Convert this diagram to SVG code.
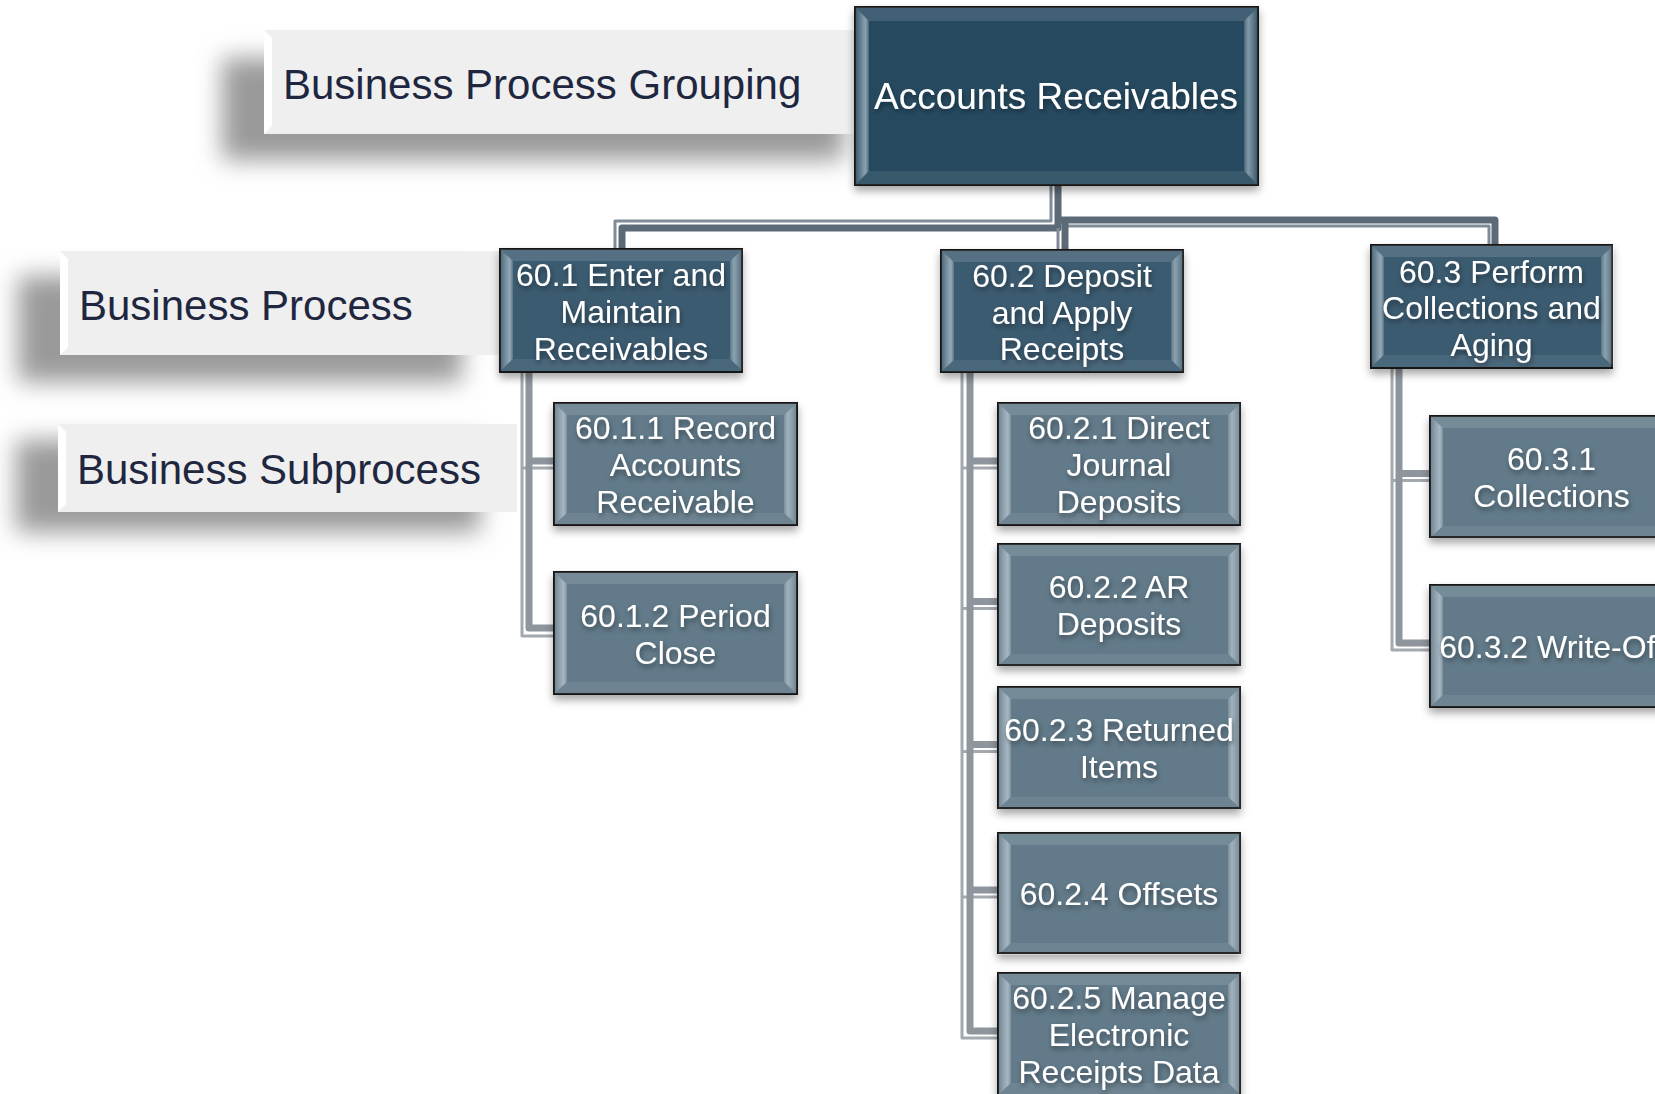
<svg xmlns="http://www.w3.org/2000/svg" xmlns:xlink="http://www.w3.org/1999/xlink" width="1655" height="1094" viewBox="0 0 1655 1094">
<style>
.lbl{fill:#efefef}
.lblt{font-family:"Liberation Sans",Arial,sans-serif;font-size:42px;fill:#1f2740}
.lsh{fill:#9a9a9a;filter:url(#blur)}
.n0{fill:#264a60;stroke:#151515;stroke-width:2}
.n1{fill:#3b5b70;stroke:#151515;stroke-width:2}
.n2{fill:#627a89;stroke:#151515;stroke-width:2}
.t{font-family:"Liberation Sans",Arial,sans-serif;font-size:32px;fill:#ffffff;text-anchor:middle;filter:url(#ts)}
.ck,.cl,.gk,.gl{fill:none;stroke-linejoin:round}
.ck{stroke:#5c6a77;stroke-width:7}
.cl{stroke:#7f8b97;stroke-width:3}
.gk{stroke:#8e959c;stroke-width:7}
.gl{stroke:#a3a9af;stroke-width:3}
</style>
<defs>
<filter id="blur" x="-20%" y="-50%" width="140%" height="200%"><feGaussianBlur stdDeviation="12"/></filter>
<filter id="ds" x="-10%" y="-10%" width="120%" height="135%"><feDropShadow dx="0" dy="5" stdDeviation="4" flood-color="#000" flood-opacity="0.35"/></filter>
<filter id="ts" x="-10%" y="-30%" width="120%" height="170%"><feDropShadow dx="1" dy="3" stdDeviation="2.5" flood-color="#000" flood-opacity="0.4"/></filter>
<linearGradient id="gl" x1="0" y1="0" x2="1" y2="0"><stop offset="0" stop-color="#fff" stop-opacity="0.05"/><stop offset="0.75" stop-color="#dbe8ef" stop-opacity="0.55"/><stop offset="1" stop-color="#fff" stop-opacity="0.15"/></linearGradient>
<linearGradient id="gr" x1="0" y1="0" x2="1" y2="0"><stop offset="0" stop-color="#fff" stop-opacity="0.15"/><stop offset="0.3" stop-color="#dbe8ef" stop-opacity="0.5"/><stop offset="1" stop-color="#fff" stop-opacity="0.05"/></linearGradient>
<symbol id="bev" viewBox="0 0 243 122" width="243" height="122">
<polygon points="0,0 243,0 230,12 13,12" fill="#fff" fill-opacity="0.13"/>
<polygon points="0,122 243,122 230,110 13,110" fill="#fff" fill-opacity="0.08"/>
<polygon points="0,0 13,12 13,110 0,122" fill="url(#gl)"/>
<polygon points="243,0 243,122 230,110 230,12" fill="url(#gr)"/>
</symbol>
<symbol id="bev0" viewBox="0 0 403 178" width="403" height="178">
<polygon points="0,0 403,0 389,14 14,14" fill="#fff" fill-opacity="0.13"/>
<polygon points="0,178 403,178 389,164 14,164" fill="#fff" fill-opacity="0.08"/>
<polygon points="0,0 14,14 14,164 0,178" fill="url(#gl)"/>
<polygon points="403,0 403,178 389,164 389,14" fill="url(#gr)"/>
</symbol>
</defs>
<rect width="1655" height="1094" fill="#ffffff"/>

<g id="label-grouping">
<rect class="lsh" x="222" y="58" width="622" height="102"/>
<rect class="lbl" x="264" y="30" width="600" height="104"/>
<polygon points="264,30 272,38 272,126 264,134" fill="#ffffff"/>
<text class="lblt" x="283" y="99">Business Process Grouping</text>
</g>
<g id="label-process">
<rect class="lsh" x="18" y="276" width="444" height="106"/>
<rect class="lbl" x="60" y="251" width="445" height="104"/>
<polygon points="60,251 68,259 68,347 60,355" fill="#ffffff"/>
<text class="lblt" x="79" y="320">Business Process</text>
</g>
<g id="label-subprocess">
<rect class="lsh" x="16" y="440" width="464" height="92"/>
<rect class="lbl" x="58" y="424" width="459" height="88"/>
<polygon points="58,424 66,432 66,504 58,512" fill="#ffffff"/>
<text class="lblt" x="77" y="484">Business Subprocess</text>
</g>

<g id="connectors">
<path class="cl" d="M1051 185 V221 H615 V250"/>
<path class="ck" d="M1058 185 V228 H622 V250"/>
<path class="cl" d="M1068 226 H1489 V246"/>
<path class="ck" d="M1058 220 H1495 V246"/>
<path class="cl" d="M1058 228 V251"/>
<path class="ck" d="M1065 220 V251"/>

<path class="gl" d="M522 372 V636 H555 M522 468 H555"/>
<path class="gk" d="M529 372 V628 H555 M529 461 H555"/>

<path class="gl" d="M962 372 V1038 H999 M962 468 H999 M962 608.5 H999 M962 751.5 H999 M962 897 H999"/>
<path class="gk" d="M970 372 V1031 H999 M970 461 H999 M970 601.5 H999 M970 744.5 H999 M970 890 H999"/>

<path class="gl" d="M1392 368 V650 H1431 M1392 480.5 H1431"/>
<path class="gk" d="M1399 368 V643 H1431 M1399 473.5 H1431"/>
</g>

<g id="node-ar" filter="url(#ds)">
<rect class="n0" x="855" y="7" width="403" height="178"/>
<use href="#bev0" xlink:href="#bev0" x="855" y="7"/>
<text class="t" x="1056" y="109" style="font-size:37px">Accounts Receivables</text>
</g>

<g id="node-60-1" filter="url(#ds)">
<rect class="n1" x="500" y="249" width="242" height="123"/>
<use href="#bev" xlink:href="#bev" x="500" y="249"/>
<text class="t"><tspan x="621" y="286">60.1 Enter and</tspan><tspan x="621" y="323">Maintain</tspan><tspan x="621" y="360">Receivables</tspan></text>
</g>
<g id="node-60-2" filter="url(#ds)">
<rect class="n1" x="941" y="250" width="242" height="122"/>
<use href="#bev" xlink:href="#bev" x="941" y="250"/>
<text class="t"><tspan x="1062" y="287">60.2 Deposit</tspan><tspan x="1062" y="324">and Apply</tspan><tspan x="1062" y="360">Receipts</tspan></text>
</g>
<g id="node-60-3" filter="url(#ds)">
<rect class="n1" x="1371" y="245" width="241" height="123"/>
<use href="#bev" xlink:href="#bev" x="1371" y="245"/>
<text class="t"><tspan x="1491.5" y="283">60.3 Perform</tspan><tspan x="1491.5" y="319">Collections and</tspan><tspan x="1491.5" y="356">Aging</tspan></text>
</g>

<g id="node-60-1-1" filter="url(#ds)">
<rect class="n2" x="554" y="403" width="243" height="122"/>
<use href="#bev" xlink:href="#bev" x="554" y="403"/>
<text class="t"><tspan x="675.5" y="439">60.1.1 Record</tspan><tspan x="675.5" y="476">Accounts</tspan><tspan x="675.5" y="513">Receivable</tspan></text>
</g>
<g id="node-60-1-2" filter="url(#ds)">
<rect class="n2" x="554" y="572" width="243" height="122"/>
<use href="#bev" xlink:href="#bev" x="554" y="572"/>
<text class="t"><tspan x="675.5" y="627">60.1.2 Period</tspan><tspan x="675.5" y="664">Close</tspan></text>
</g>

<g id="node-60-2-1" filter="url(#ds)">
<rect class="n2" x="998" y="403" width="242" height="122"/>
<use href="#bev" xlink:href="#bev" x="998" y="403"/>
<text class="t"><tspan x="1119" y="439">60.2.1 Direct</tspan><tspan x="1119" y="476">Journal</tspan><tspan x="1119" y="513">Deposits</tspan></text>
</g>
<g id="node-60-2-2" filter="url(#ds)">
<rect class="n2" x="998" y="544" width="242" height="121"/>
<use href="#bev" xlink:href="#bev" x="998" y="544"/>
<text class="t"><tspan x="1119" y="597.5">60.2.2 AR</tspan><tspan x="1119" y="634.5">Deposits</tspan></text>
</g>
<g id="node-60-2-3" filter="url(#ds)">
<rect class="n2" x="998" y="687" width="242" height="121"/>
<use href="#bev" xlink:href="#bev" x="998" y="687"/>
<text class="t"><tspan x="1119" y="741">60.2.3 Returned</tspan><tspan x="1119" y="778">Items</tspan></text>
</g>
<g id="node-60-2-4" filter="url(#ds)">
<rect class="n2" x="998" y="833" width="242" height="120"/>
<use href="#bev" xlink:href="#bev" x="998" y="833"/>
<text class="t" x="1119" y="905">60.2.4 Offsets</text>
</g>
<g id="node-60-2-5" filter="url(#ds)">
<rect class="n2" x="998" y="973" width="242" height="122"/>
<use href="#bev" xlink:href="#bev" x="998" y="973"/>
<text class="t"><tspan x="1119" y="1009">60.2.5 Manage</tspan><tspan x="1119" y="1046">Electronic</tspan><tspan x="1119" y="1083">Receipts Data</tspan></text>
</g>

<g id="node-60-3-1" filter="url(#ds)">
<rect class="n2" x="1430" y="416" width="243" height="121"/>
<use href="#bev" xlink:href="#bev" x="1430" y="416"/>
<text class="t"><tspan x="1551.5" y="470">60.3.1</tspan><tspan x="1551.5" y="507">Collections</tspan></text>
</g>
<g id="node-60-3-2" filter="url(#ds)">
<rect class="n2" x="1430" y="585" width="243" height="122"/>
<use href="#bev" xlink:href="#bev" x="1430" y="585"/>
<text class="t" x="1551.5" y="658">60.3.2 Write-Off</text>
</g>
</svg>
